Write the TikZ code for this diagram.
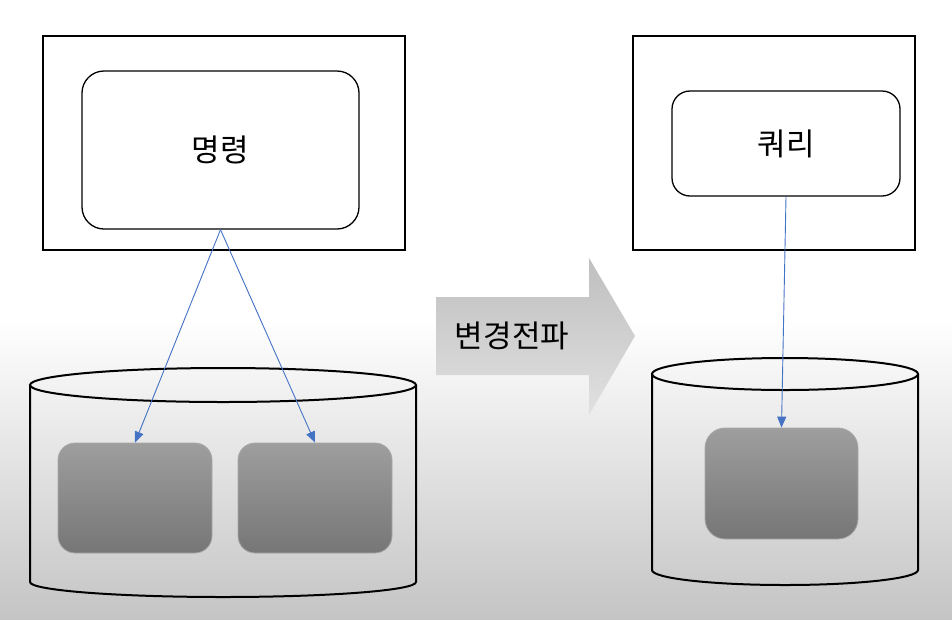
\documentclass[tikz,border=0pt]{standalone}
\usepackage{fontspec}
\setmainfont{Noto Sans CJK KR}
\usetikzlibrary{arrows.meta,positioning}
\definecolor{LinkBlue}{HTML}{4472C4}
\definecolor{BoxTop}{HTML}{9E9E9E}
\definecolor{BoxBot}{HTML}{767676}
\definecolor{BoxEdge}{HTML}{A8A8A8}

\tikzset{
  frame/.style={draw=black,line width=1.3pt},
  panel/.style={draw=black,line width=1.3pt,fill=white,rounded corners=22pt,
    inner sep=0pt,font=\fontsize{31}{36}\selectfont},
  cyl/.style={draw=black,line width=2pt},
  store/.style={draw=BoxEdge,line width=0.8pt,rounded corners=17pt,inner sep=0pt,
    top color=BoxTop,bottom color=BoxBot},
  link/.style={draw=LinkBlue,line width=0.9pt,-{Triangle[length=11pt,width=9pt]}},
}

\begin{document}
\begin{tikzpicture}[x=1pt,y=-1pt]
    \useasboundingbox (0,0) rectangle (952,619);
    % Background
    \fill[white] (0,0) rectangle (952,322);
    \shade[top color=white,bottom color=gray!46] (0,320) rectangle (952,619);
    % Command side
    \draw[frame] (43,36) rectangle (405,250);
    \node[panel,minimum width=277,minimum height=158] (cmd) at (220.5,150) {명령};
    % Left store
    \draw[cyl] (30,385) -- (30,582) arc[start angle=180,end angle=0,x radius=193,y radius=15] -- (416,385);
    \draw[cyl] (223,385) ellipse [x radius=193,y radius=17];
    \node[store,minimum width=154,minimum height=110] (lbox1) at (135,498) {};
    \node[store,minimum width=154,minimum height=110] (lbox2) at (315,498) {};
    % Query side
    \draw[frame] (633,36) rectangle (915,250);
    \node[panel,rounded corners=18pt,minimum width=228,minimum height=105] (query) at (786,143.5) {쿼리};
    % Right store
    \draw[cyl] (652,374) -- (652,570) arc[start angle=180,end angle=0,x radius=133,y radius=15] -- (918,374);
    \draw[cyl] (785,374) ellipse [x radius=133,y radius=16];
    \node[store,rounded corners=20pt,minimum width=153,minimum height=111] (rbox) at (781.5,483.5) {};
    % Propagation arrow
    \shade[top color=gray!50,bottom color=gray!24]
      (436,297) -- (589,297) -- (589,258) -- (635,336) -- (589,415) -- (589,375) -- (436,375) -- cycle;
    \node[font=\fontsize{31}{36}\selectfont] (prop) at (512,336) {변경전파};
    % Links
    \draw[link] (cmd.south) -- (lbox1.north);
    \draw[link] (cmd.south) -- (lbox2.north);
    \draw[link] (query.south) -- (rbox.north);
\end{tikzpicture}
\end{document}
